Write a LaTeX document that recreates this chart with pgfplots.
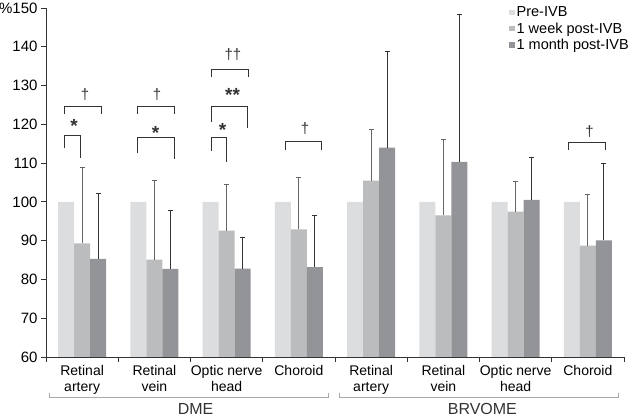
\documentclass[border=0pt]{standalone}
\usepackage{pgfplots}
\pgfplotsset{compat=1.18}
\usepackage{fontspec}
\setmainfont{Liberation Sans}

\definecolor{cPre}{HTML}{DCDDDF}
\definecolor{cWeek}{HTML}{BBBCBE}
\definecolor{cMonth}{HTML}{939497}
\definecolor{axgray}{HTML}{333333}
\definecolor{brgray}{HTML}{A8A8A8}

\tikzset{
  ast/.style={inner sep=0pt, text=axgray, font=\fontsize{19bp}{20bp}\selectfont\bfseries},
  dag/.style={inner sep=0pt, text=axgray, font=\fontsize{15bp}{16bp}\selectfont},
}

\begin{document}
\begin{tikzpicture}
\begin{axis}[
    name=ax,
    scale only axis,
    width=578bp, height=349bp,
    xmin=-0.5, xmax=7.5,
    ymin=60, ymax=150,
    ybar=0pt, bar width=16bp,
    clip=false,
    axis lines=left,
    axis line style={-, axgray, line width=0.8pt},
    tick style={axgray, line width=0.8pt},
    tick align=outside,
    major tick length=5bp, minor tick length=5bp,
    ytick={60,70,...,150},
    yticklabels={60,70,80,90,100,110,120,130,140,\%150},
    xtick={0,...,7},
    xticklabels={Retinal\\artery, Retinal\\vein, Optic nerve\\head, Choroid,
                 Retinal\\artery, Retinal\\vein, Optic nerve\\head, Choroid},
    minor xtick={-0.5,0.5,...,7.5},
    major x tick style={draw=none},
    /pgf/number format/assume math mode=true,
    yticklabel style={font=\fontsize{15bp}{17bp}\selectfont},
    xticklabel style={font=\fontsize{14bp}{16bp}\selectfont, align=center},
    legend style={at={(axis description cs:0.801,1.01)}, anchor=north west,
        draw=none, fill=none, inner sep=0pt,
        font=\fontsize{14.5bp}{16bp}\selectfont,
        row sep=0.5bp},
    legend cell align=left,
    legend image code/.code={\fill[#1] (1.5bp,-2.6bp) rectangle (7bp,2.9bp);},
]
\addplot[fill=cPre, draw=none] coordinates {
    (0,100) (1,100) (2,100) (3,100) (4,100) (5,100) (6,100) (7,100)};
\addlegendentry{Pre-IVB}
\addplot[fill=cWeek, draw=none,
    error bars/.cd, y dir=plus, y explicit,
    error bar style={draw=black!60, line width=0.8pt},
    error mark options={rotate=90, draw=black!60, line width=0.8pt, mark size=2.5bp}]
    coordinates {
    (0,89.3) +- (0,19.5)
    (1,85.1) +- (0,20.5)
    (2,92.6) +- (0,12.0)
    (3,92.9) +- (0,13.5)
    (4,105.5) +- (0,13.2)
    (5,96.5) +- (0,19.5)
    (6,97.5) +- (0,7.8)
    (7,88.7) +- (0,13.2)};
\addlegendentry{1 week post-IVB}
\addplot[fill=cMonth, draw=none,
    error bars/.cd, y dir=plus, y explicit,
    error bar style={draw=black!80, line width=0.8pt},
    error mark options={rotate=90, draw=black!80, line width=0.8pt, mark size=2.5bp}]
    coordinates {
    (0,85.3) +- (0,17.0)
    (1,82.7) +- (0,15.1)
    (2,82.8) +- (0,8.0)
    (3,83.2) +- (0,13.3)
    (4,114.0) +- (0,24.8)
    (5,110.3) +- (0,38.0)
    (6,100.5) +- (0,11.1)
    (7,90.1) +- (0,19.7)};
\addlegendentry{1 month post-IVB}

% significance brackets
\draw[axgray, line width=0.8pt] (axis cs:-0.251,113.8) |- (axis cs:-0.030,117.1) -- (axis cs:-0.030,111.2);
\draw[axgray, line width=0.8pt] (axis cs:-0.251,122.7) |- (axis cs:0.264,124.5) -- (axis cs:0.264,122.7);
\draw[axgray, line width=0.8pt] (axis cs:0.761,112.6) |- (axis cs:1.272,116.6) -- (axis cs:1.272,111.0);
\draw[axgray, line width=0.8pt] (axis cs:0.761,122.7) |- (axis cs:1.272,124.5) -- (axis cs:1.272,122.7);
\draw[axgray, line width=0.8pt] (axis cs:1.783,113.2) |- (axis cs:2.000,116.6) -- (axis cs:2.000,110.4);
\draw[axgray, line width=0.8pt] (axis cs:1.783,120.7) |- (axis cs:2.294,124.5) -- (axis cs:2.294,119.0);
\draw[axgray, line width=0.8pt] (axis cs:1.783,132.1) |- (axis cs:2.304,134.1) -- (axis cs:2.304,132.1);
\draw[axgray, line width=0.8pt] (axis cs:2.811,113.5) |- (axis cs:3.316,115.5) -- (axis cs:3.316,113.5);
\draw[axgray, line width=0.8pt] (axis cs:6.733,113.5) |- (axis cs:7.244,115.3) -- (axis cs:7.244,113.5);

\node[ast] at (axis cs:-0.113,119.6) {*};
\node[dag] at (axis cs:0.039,127.7) {†};
\node[ast] at (axis cs:1.015,117.8) {*};
\node[dag] at (axis cs:1.037,127.7) {†};
\node[ast] at (axis cs:1.945,118.6) {*};
\node[ast] at (axis cs:2.083,127.6) {**};
\node[dag] at (axis cs:2.087,137.9) {††};
\node[dag] at (axis cs:3.087,118.8) {†};
\node[dag] at (axis cs:7.023,118.2) {†};

% group brackets
\draw[brgray, line width=0.8pt] (axis cs:-0.449,50.8) |- (axis cs:3.409,49.5) -- (axis cs:3.409,50.8);
\draw[brgray, line width=0.8pt] (axis cs:3.56,50.8) |- (axis cs:7.42,49.5) -- (axis cs:7.42,50.8);
\node[font=\fontsize{16bp}{18bp}\selectfont, text=axgray] at (axis cs:1.57,46.6) {DME};
\node[font=\fontsize{16bp}{18bp}\selectfont, text=axgray] at (axis cs:5.54,46.6) {BRVOME};
\end{axis}
\pgfresetboundingbox
\path[use as bounding box] ([shift={(-46bp,-61bp)}]ax.south west) rectangle ([shift={(6bp,8bp)}]ax.north east);
\end{tikzpicture}
\end{document}
